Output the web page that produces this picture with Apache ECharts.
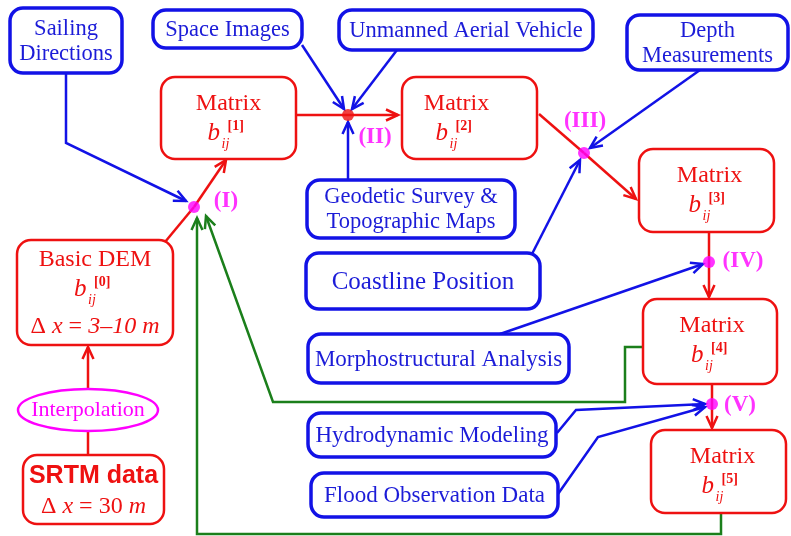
<!DOCTYPE html>
<html>
<head>
<meta charset="utf-8">
<title>DEM refinement scheme</title>
<style>
html, body { margin: 0; padding: 0; background: #fff; }
#chart { width: 791px; height: 536px; }
</style>
</head>
<body>
<div id="chart"></div>
<script src="https://cdn.jsdelivr.net/npm/echarts@6/dist/echarts.min.js"></script>
<script>
// ---- data ----
var sourceLabels = [
  ['Sailing', 'Directions'],
  ['Space Images'],
  ['Unmanned Aerial Vehicle'],
  ['Depth', 'Measurements'],
  ['Geodetic Survey &', 'Topographic Maps'],
  ['Coastline Position'],
  ['Morphostructural Analysis'],
  ['Hydrodynamic Modeling'],
  ['Flood Observation Data']
];
var matrixLevels = [1, 2, 3, 4, 5];
var stageLabels = ['(I)', '(II)', '(III)', '(IV)', '(V)'];
var demTitles = ['Basic DEM', 'SRTM data'];
var demSteps = ['3–10', '30'];
var methodLabel = 'Interpolation';
// links: from, to, kind (flow / source / feedback), arrow
var links = [
  ['SRTM data', 'Interpolation', 'flow', false],
  ['Interpolation', 'Basic DEM', 'flow', true],
  ['Basic DEM', '(I)', 'flow', false],
  ['(I)', 'Matrix 1', 'flow', true],
  ['Sailing Directions', '(I)', 'source', true],
  ['Space Images', '(II)', 'source', true],
  ['Unmanned Aerial Vehicle', '(II)', 'source', true],
  ['Geodetic Survey', '(II)', 'source', true],
  ['Matrix 1', '(II)', 'flow', false],
  ['(II)', 'Matrix 2', 'flow', true],
  ['Matrix 2', '(III)', 'flow', false],
  ['(III)', 'Matrix 3', 'flow', true],
  ['Depth Measurements', '(III)', 'source', true],
  ['Coastline Position', '(III)', 'source', true],
  ['Matrix 3', '(IV)', 'flow', false],
  ['(IV)', 'Matrix 4', 'flow', true],
  ['Morphostructural Analysis', '(IV)', 'source', true],
  ['Matrix 4', '(V)', 'flow', false],
  ['(V)', 'Matrix 5', 'flow', true],
  ['Hydrodynamic Modeling', '(V)', 'source', true],
  ['Flood Observation Data', '(V)', 'source', true],
  ['Matrix 4', '(I)', 'feedback', true],
  ['Matrix 5', '(I)', 'feedback', true]
];

// ---- layout (pixel grid 791 x 536) ----
var sourceBoxes = [[10, 8, 122, 73], [153, 10, 302, 48], [339, 10, 593, 50], [627, 15, 788, 70],
  [307, 180, 515, 238], [306, 253, 540, 309], [308, 334, 569, 383], [308, 413, 556, 457], [311, 473, 558, 517]];
var sourceFonts = [22.5, 22.5, 22.5, 22.5, 22.5, 25, 23, 23, 23];
var matrixBoxes = [[161, 77, 296, 159], [402, 77, 537, 159], [639, 149, 774, 232], [643, 299, 777, 384], [651, 430, 786, 513]];
var matrixShift = [0, -13, 3, 2, 4];
var demBoxes = [[17, 240, 173, 345], [23, 455, 164, 524]];
var methodEllipse = [88, 410, 70, 21];
var stagePoints = [[194, 207], [348, 115], [584, 153], [709, 262], [712, 404]];
var stageLabelPos = [[226, 201], [375, 137], [585, 121], [743, 261], [740, 405]];
var linkRoutes = [
  [[88, 455], [88, 432]],
  [[88, 389], [88, 347]],
  [[165, 242], [194, 207]],
  [[194, 207], [226, 160]],
  [[66, 73], [66, 143], [186, 201]],
  [[302, 45], [344, 109]],
  [[397, 50], [352, 109]],
  [[348, 180], [348, 122]],
  [[296, 115], [348, 115]],
  [[348, 115], [398, 115]],
  [[539, 114], [584, 153]],
  [[584, 153], [636, 199]],
  [[700, 70], [590, 148]],
  [[532, 254], [580, 160]],
  [[709, 232], [709, 262]],
  [[709, 262], [709, 297]],
  [[500, 334], [703, 264]],
  [[712, 384], [712, 404]],
  [[712, 404], [712, 428]],
  [[557, 433], [576, 410], [705, 404]],
  [[558, 494], [598, 437], [705, 407]],
  [[643, 347], [625, 347], [625, 402], [273, 402], [206, 216]],
  [[721, 514], [721, 534], [197, 534], [197, 218]]
];

var RED = '#ee1111', BLUE = '#1212e6', BLUE_TXT = '#1c1cd8', GREEN = '#1b7f1b', MAGENTA = '#ff00ff';
var SERIF = '"Liberation Serif", "Times New Roman", serif';
var kindColor = { flow: RED, source: BLUE, feedback: GREEN };

function rectOf(api, b, r, stroke, lw) {
  var p0 = api.coord([b[0], b[1]]), p1 = api.coord([b[2], b[3]]);
  return {
    type: 'rect',
    shape: { x: p0[0], y: p0[1], width: p1[0] - p0[0], height: p1[1] - p0[1], r: r },
    style: { fill: '#fff', stroke: stroke, lineWidth: lw }
  };
}

// b_ij^[n] made of three text pieces
function bSymbol(cx, top, n) {
  return [
    { type: 'text', x: cx - 21, y: top, style: { text: 'b', font: 'italic 25px ' + SERIF, fill: RED, align: 'left', verticalAlign: 'middle' } },
    { type: 'text', x: cx - 7, y: top + 11, style: { text: 'ij', font: 'italic 14px ' + SERIF, fill: RED, align: 'left', verticalAlign: 'middle' } },
    { type: 'text', x: cx - 1, y: top - 7, style: { text: '[' + n + ']', font: 'bold 14px ' + SERIF, fill: RED, align: 'left', verticalAlign: 'middle' } }
  ];
}

function renderLink(params, api) {
  var i = api.value(0);
  var pts = linkRoutes[i].map(function (p) { return api.coord(p); });
  var color = kindColor[links[i][2]];
  var children = [{
    type: 'polyline', shape: { points: pts },
    style: { stroke: color, lineWidth: 2.5, fill: null, lineJoin: 'miter' }
  }];
  if (links[i][3]) {
    var a = pts[pts.length - 2], t = pts[pts.length - 1];
    var dx = t[0] - a[0], dy = t[1] - a[1], len = Math.sqrt(dx * dx + dy * dy);
    var ux = dx / len, uy = dy / len, L = 12, W = 5.5;
    var bx = t[0] - ux * L, by = t[1] - uy * L;
    children.push({
      type: 'polyline',
      shape: { points: [[bx - uy * W, by + ux * W], t, [bx + uy * W, by - ux * W]] },
      style: { stroke: color, lineWidth: 2.5, fill: null, lineJoin: 'miter' }
    });
  }
  return { type: 'group', children: children };
}

function renderSource(params, api) {
  var i = api.value(0), b = sourceBoxes[i], lines = sourceLabels[i];
  var cx = (b[0] + b[2]) / 2, cy = (b[1] + b[3]) / 2;
  var c = api.coord([cx, cy]);
  var children = [rectOf(api, b, 13, BLUE, 3.5)];
  lines.forEach(function (t, k) {
    children.push({
      type: 'text', x: c[0], y: c[1] + 1 + (k - (lines.length - 1) / 2) * 25,
      style: { text: t, font: sourceFonts[i] + 'px ' + SERIF, fill: BLUE_TXT, align: 'center', verticalAlign: 'middle' }
    });
  });
  return { type: 'group', children: children };
}

function renderMatrix(params, api) {
  var i = api.value(0), b = matrixBoxes[i];
  var p0 = api.coord([b[0], b[1]]), p1 = api.coord([b[2], b[3]]);
  var cx = (p0[0] + p1[0]) / 2 + matrixShift[i];
  var children = [rectOf(api, b, 14, RED, 2.5),
    { type: 'text', x: cx, y: p0[1] + 27, style: { text: 'Matrix', font: '24px ' + SERIF, fill: RED, align: 'center', verticalAlign: 'middle' } }
  ];
  return { type: 'group', children: children.concat(bSymbol(cx, p0[1] + 56, matrixLevels[i])) };
}

function renderDem(params, api) {
  var i = api.value(0), b = demBoxes[i];
  var p0 = api.coord([b[0], b[1]]), p1 = api.coord([b[2], b[3]]);
  var cx = (p0[0] + p1[0]) / 2;
  var children = [rectOf(api, b, 14, RED, 2.5)];
  var rich = {
    u: { fontSize: 24, fontFamily: SERIF, fill: RED },
    i: { fontSize: 24, fontFamily: SERIF, fontStyle: 'italic', fill: RED }
  };
  if (i === 0) {
    children.push({ type: 'text', x: cx, y: p0[1] + 20, style: { text: demTitles[0], font: '24px ' + SERIF, fill: RED, align: 'center', verticalAlign: 'middle' } });
    children = children.concat(bSymbol(cx, p0[1] + 49, 0));
    children.push({ type: 'text', x: cx, y: p0[1] + 87, style: { text: '{u|Δ }{i|x}{u| = }{i|' + demSteps[0] + ' m}', rich: rich, align: 'center', verticalAlign: 'middle' } });
  } else {
    children.push({ type: 'text', x: cx, y: p0[1] + 21, style: { text: demTitles[1], font: 'bold 25px "Liberation Sans", Arial, sans-serif', fill: RED, align: 'center', verticalAlign: 'middle' } });
    children.push({ type: 'text', x: cx, y: p0[1] + 52, style: { text: '{u|Δ }{i|x}{u| = ' + demSteps[1] + ' }{i|m}', rich: rich, align: 'center', verticalAlign: 'middle' } });
  }
  return { type: 'group', children: children };
}

function renderMethod(params, api) {
  var e = methodEllipse, c = api.coord([e[0], e[1]]);
  return {
    type: 'group', children: [
      { type: 'ellipse', shape: { cx: c[0], cy: c[1], rx: e[2], ry: e[3] }, style: { fill: '#fff', stroke: MAGENTA, lineWidth: 2.5 } },
      { type: 'text', x: c[0], y: c[1], style: { text: methodLabel, font: '22px ' + SERIF, fill: MAGENTA, align: 'center', verticalAlign: 'middle' } }
    ]
  };
}

function idx(arr) { return arr.map(function (_, i) { return [i]; }); }

var chart = echarts.init(document.getElementById('chart'), null, { renderer: 'canvas' });
chart.setOption({
  animation: false,
  backgroundColor: '#fff',
  grid: { left: 0, right: 0, top: 0, bottom: 0 },
  xAxis: { type: 'value', min: 0, max: 791, show: false },
  yAxis: { type: 'value', min: 0, max: 536, inverse: true, show: false },
  series: [
    { type: 'custom', name: 'links', renderItem: renderLink, data: idx(links), clip: false, silent: true },
    { type: 'custom', name: 'sources', renderItem: renderSource, data: idx(sourceLabels), clip: false, silent: true },
    { type: 'custom', name: 'matrices', renderItem: renderMatrix, data: idx(matrixLevels), clip: false, silent: true },
    { type: 'custom', name: 'dem', renderItem: renderDem, data: idx(demTitles), clip: false, silent: true },
    { type: 'custom', name: 'method', renderItem: renderMethod, data: [[0]], clip: false, silent: true },
    {
      type: 'scatter', name: 'stages', symbolSize: 12, silent: true,
      data: stagePoints.map(function (p, i) {
        return {
          value: p,
          itemStyle: { color: i === 1 ? RED : MAGENTA },
          label: {
            show: true, position: 'inside',
            offset: [stageLabelPos[i][0] - p[0], stageLabelPos[i][1] - p[1]],
            formatter: stageLabels[i],
            color: MAGENTA, fontFamily: SERIF, fontWeight: 'bold', fontSize: 23
          }
        };
      })
    }
  ]
});
</script>
</body>
</html>
